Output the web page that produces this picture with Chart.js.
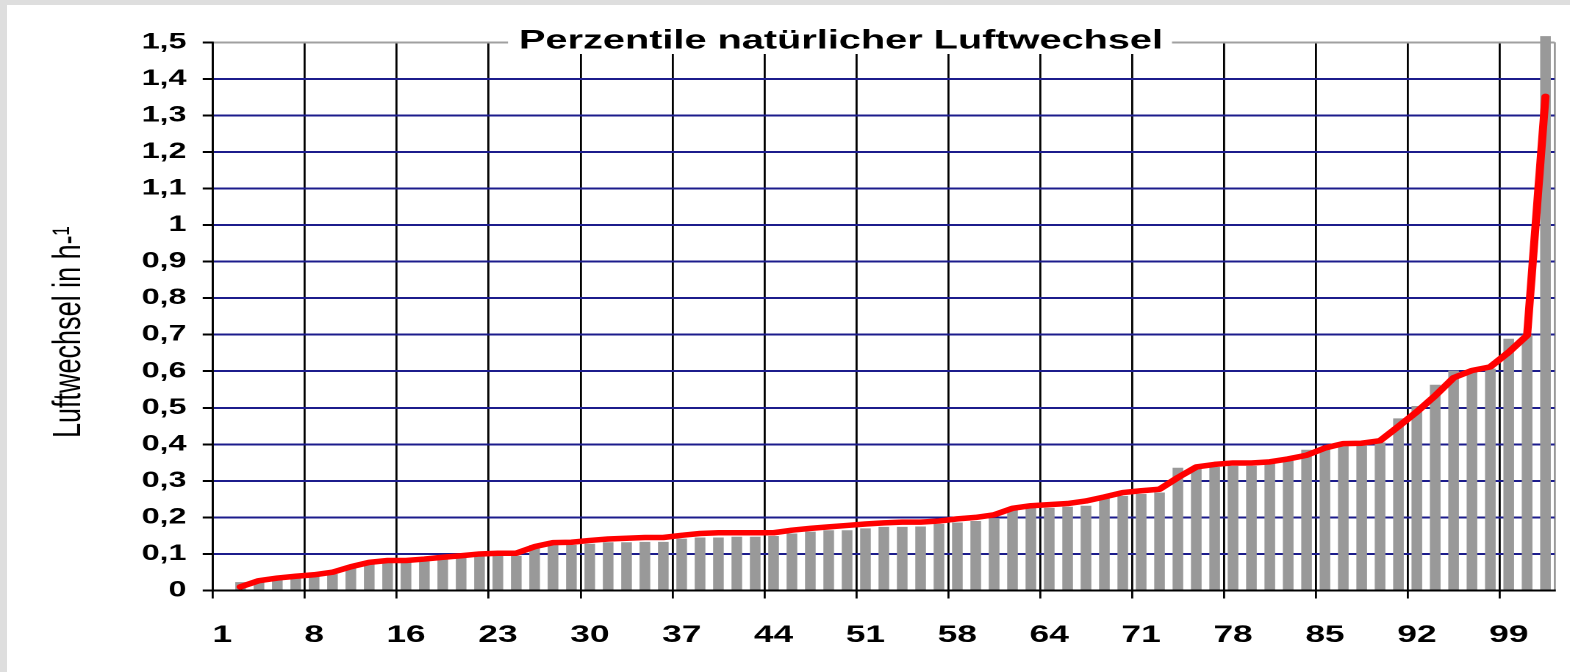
<!DOCTYPE html>
<html>
<head>
<meta charset="utf-8">
<script src="https://cdn.jsdelivr.net/npm/chart.js@4.4.1/dist/chart.umd.min.js"></script>
<style>
  html, body { margin: 0; padding: 0; overflow: hidden; background: #dedede; }
  #paper { position: absolute; left: 7px; top: 5px; right: 0; bottom: 0; background: #fff; }
  #wrap { position: absolute; left: 0; top: 0; height: 672px; transform-origin: 0 0; }
</style>
</head>
<body>
<div id="paper"></div>
<div id="wrap"><canvas id="myChart"></canvas></div>
<script>
// percentile labels (only every 5th is shown)
const categories = [
    '1', '2', '4', '5', '7', '8', '10', '11', '13', '14',
    '16', '17', '19', '20', '22', '23', '24', '26', '27', '29',
    '30', '31', '33', '34', '36', '37', '38', '40', '41', '43',
    '44', '45', '47', '48', '50', '51', '52', '54', '55', '57',
    '58', '59', '60', '62', '63', '64', '65', '67', '68', '70',
    '71', '72', '74', '75', '77', '78', '79', '81', '82', '84',
    '85', '86', '88', '89', '91', '92', '93', '95', '96', '98',
    '99', '100', '100'
];

// Luftwechsel per percentile (bars)
const barValues = [
    null, 0.023, 0.027, 0.030, 0.035, 0.040, 0.045, 0.068, 0.075, 0.077,
    0.078, 0.080, 0.085, 0.090, 0.093, 0.095, 0.095, 0.124, 0.124, 0.125,
    0.128, 0.132, 0.132, 0.133, 0.133, 0.142, 0.145, 0.145, 0.147, 0.147,
    0.149, 0.156, 0.161, 0.165, 0.165, 0.170, 0.174, 0.174, 0.175, 0.182,
    0.186, 0.190, 0.198, 0.226, 0.226, 0.226, 0.229, 0.232, 0.259, 0.259,
    0.264, 0.268, 0.336, 0.336, 0.338, 0.341, 0.341, 0.350, 0.355, 0.385,
    0.390, 0.395, 0.400, 0.405, 0.471, 0.505, 0.563, 0.602, 0.602, 0.607,
    0.689, 0.700, 1.517
];

// red curve
const lineValues = [
    null, 0.010, 0.027, 0.034, 0.039, 0.043, 0.050, 0.065, 0.077, 0.082,
    0.082, 0.086, 0.091, 0.095, 0.100, 0.102, 0.102, 0.120, 0.131, 0.132,
    0.137, 0.141, 0.143, 0.145, 0.145, 0.151, 0.156, 0.158, 0.158, 0.158,
    0.158, 0.165, 0.170, 0.174, 0.178, 0.182, 0.185, 0.187, 0.187, 0.190,
    0.196, 0.200, 0.207, 0.225, 0.232, 0.235, 0.238, 0.245, 0.256, 0.268,
    0.273, 0.277, 0.309, 0.338, 0.345, 0.349, 0.349, 0.352, 0.360, 0.370,
    0.390, 0.402, 0.403, 0.410, 0.449, 0.489, 0.533, 0.582, 0.602, 0.612,
    0.652, 0.698, 1.352
];

const titleText = 'Perzentile natürlicher Luftwechsel';
const axisTitle = 'Luftwechsel in h-¹';

// the original picture is stretched horizontally
const STRETCH = 1.47;
const W = 1570 / STRETCH;
const H = 672;
const plotLeft = 213 / STRETCH;
const plotRight = 1554.7 / STRETCH;
const plotTop = 42.3;
const plotBottom = 590.5;

const wrap = document.getElementById('wrap');
wrap.style.width = W + 'px';
wrap.style.transform = 'scaleX(' + STRETCH + ')';
const canvas = document.getElementById('myChart');
canvas.width = W;
canvas.height = H;

Chart.defaults.font.family = '"Liberation Sans", Arial, sans-serif';
Chart.defaults.color = '#000';

// chart title sits on the top border, y title rotated on the left
const titlePlugin = {
    id: 'titles',
    afterDraw(chart) {
        const ctx = chart.ctx;
        ctx.save();
        ctx.fillStyle = '#fff';
        ctx.fillRect(508 / STRETCH, 26, (1172 - 508) / STRETCH, 28);
        ctx.font = 'bold 27px "Liberation Sans", Arial, sans-serif';
        ctx.fillStyle = '#000';
        ctx.textAlign = 'center';
        ctx.textBaseline = 'middle';
        ctx.fillText(titleText, 841 / STRETCH, 41);

        ctx.translate(80 / STRETCH, 438);
        ctx.rotate(-Math.PI / 2);
        ctx.font = '27px "Liberation Sans", Arial, sans-serif';
        ctx.textAlign = 'left';
        ctx.textBaseline = 'alphabetic';
        ctx.fillText(axisTitle, 0, 0);
        ctx.restore();
    }
};

function isTop(v) { return Math.abs(v - 1.5) < 1e-6; }

const ctx = canvas.getContext('2d');
const myChart = new Chart(ctx, {
    data: {
        labels: categories,
        datasets: [{
            type: 'line',
            data: lineValues,
            borderColor: '#ff0000',
            borderWidth: 5.5,
            pointRadius: 0,
            tension: 0,
            borderJoinStyle: 'round',
            borderCapStyle: 'round',
            order: 0
        }, {
            type: 'bar',
            data: barValues,
            backgroundColor: '#999999',
            barPercentage: 0.58,
            categoryPercentage: 1.0,
            clip: false,
            order: 1
        }]
    },
    plugins: [titlePlugin],
    options: {
        responsive: false,
        devicePixelRatio: 2,
        animation: false,
        layout: {
            padding: { left: 0, top: plotTop, right: W - plotRight, bottom: 0 }
        },
        plugins: {
            legend: { display: false },
            tooltip: { enabled: false }
        },
        scales: {
            x: {
                type: 'category',
                offset: true,
                afterFit: (scale) => { scale.height = H - plotBottom; },
                grid: {
                    offset: true,
                    lineWidth: 1.4,
                    tickLength: 8,
                    color: (c) => c.index === undefined ? '#999999' : (c.index % 5 === 0 ? '#000' : 'rgba(0,0,0,0)'),
                    tickColor: (c) => (c.index !== undefined && c.index % 5 === 0) ? '#000' : 'rgba(0,0,0,0)'
                },
                border: { color: '#000', width: 2 },
                ticks: {
                    autoSkip: false,
                    maxRotation: 0,
                    padding: 8,
                    font: { size: 24, weight: 'bold', lineHeight: 2.4 },
                    callback: (val, i) => i % 5 === 0 ? categories[i] : ''
                }
            },
            y: {
                min: 0,
                max: 1.5,
                afterFit: (scale) => { scale.width = plotLeft; },
                grid: {
                    lineWidth: 2,
                    tickLength: 7,
                    tickColor: '#000',
                    color: (c) => isTop(c.tick.value) ? '#a0a0a0' : (c.tick.value === 0 ? '#000' : '#1c1c8c')
                },
                border: { color: '#000', width: 1.4 },
                ticks: {
                    stepSize: 0.1,
                    padding: 11,
                    font: { size: 22, weight: 'bold' },
                    callback: (v) => String(+v.toFixed(1)).replace('.', ',')
                }
            }
        }
    }
});
</script>
</body>
</html>
